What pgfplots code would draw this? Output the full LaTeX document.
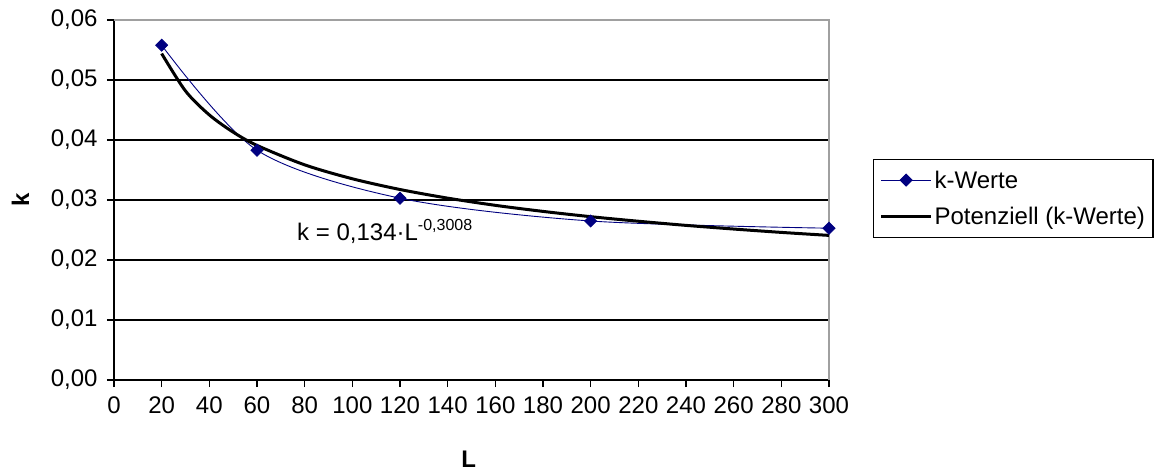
\documentclass[border=0pt]{standalone}
\usepackage{fontspec}
\setmainfont{Liberation Sans}
\usepackage{pgfplots}
\pgfplotsset{compat=1.18}
\definecolor{navy}{RGB}{0,0,128}
\definecolor{framegray}{RGB}{160,160,160}

\pgfplotsset{
  legA/.style={legend image code/.code={\draw[mark repeat=2,mark phase=2,##1] plot coordinates {(0bp,0bp)(25bp,0bp)(50bp,0bp)};}},
  legB/.style={legend image code/.code={\draw[##1] (0bp,0bp) -- (50bp,0bp);}},
}

\pgfplotstableread{
L k
20 0.0558
60 0.0383
120 0.0303
200 0.0265
300 0.0253
}\kwerte

\pgfplotstableread{
L k
20 0.05441
30 0.04817
40 0.04418
50 0.04131
60 0.03910
80 0.03586
100 0.03354
120 0.03175
140 0.03031
160 0.02911
180 0.02810
200 0.02722
220 0.02646
240 0.02577
260 0.02516
280 0.02460
300 0.02410
}\trend

\begin{document}
\begin{tikzpicture}[font=\fontsize{24bp}{28bp}\selectfont]
\begin{axis}[
  name=ax,
  scale only axis,
  width=715bp, height=360bp,
  xmin=0, xmax=300, ymin=0, ymax=0.06,
  xtick={0,20,...,300},
  ytick={0,0.01,0.02,0.03,0.04,0.05,0.06},
  scaled y ticks=false,
  axis x line*=bottom, axis y line*=left,
  axis line style={-, black, line width=1.3bp},
  tick align=outside,
  major tick length=7bp,
  tick style={black, line width=1.3bp},
  ymajorgrids,
  grid style={black, line width=1.3bp},
  clip=false,
  /pgf/number format/assume math mode=true,
  yticklabel style={/pgf/number format/use comma, /pgf/number format/fixed,
    /pgf/number format/fixed zerofill, /pgf/number format/precision=2, xshift=-6bp},
  xticklabel style={yshift=-6bp},
  xlabel={\textbf{L}},
  ylabel={\textbf{k}},
  xlabel style={at={(axis description cs:0.496,-0.219)}, anchor=center},
  ylabel style={at={(axis description cs:-0.131,0.5)}, anchor=center, rotate=0},
  legend style={at={(axis description cs:1.0615,0.614)}, anchor=north west,
    draw=black, line width=1.3bp, inner xsep=6bp, inner ysep=9bp, row sep=14bp,
    font=\fontsize{24bp}{28bp}\selectfont,
    nodes={inner sep=2bp}},
  legend cell align=left,
]
\draw[framegray, line width=1.5bp] (rel axis cs:0,1) -- (rel axis cs:1,1) -- (rel axis cs:1,0);
\addplot[navy, line width=0.9bp, smooth, mark=square*, mark size=4.2bp,
  mark options={rotate=45, solid}, legA]
  table[x=L,y=k] {\kwerte};
\addlegendentry{k-Werte}
\addplot[black, line width=3bp, smooth, no markers, legB]
  table[x=L,y=k] {\trend};
\addlegendentry{Potenziell (k-Werte)}
\node[anchor=base west, inner sep=0pt] at (axis cs:76.8,0.0232)
  {k = 0,134·L\raisebox{10bp}{\fontsize{16bp}{19bp}\selectfont -0,3008}};
\end{axis}
\path ([xshift=-114bp,yshift=-92bp]ax.south west) rectangle ++(1164bp,472bp);
\end{tikzpicture}
\end{document}
